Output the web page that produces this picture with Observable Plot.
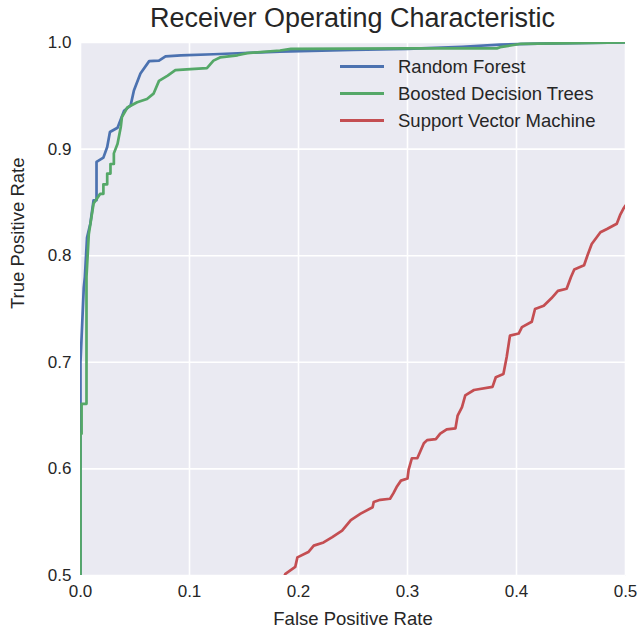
<!DOCTYPE html>
<html>
<head>
<meta charset="utf-8">
<script src="https://cdn.jsdelivr.net/npm/d3@7"></script>
<script src="https://cdn.jsdelivr.net/npm/@observablehq/plot@0.6"></script>
<style>
  html, body { margin: 0; padding: 0; background: #ffffff; }
  body { width: 639px; height: 631px; position: relative; font-family: "Liberation Sans", Arial, sans-serif; overflow: hidden; }
  #title { position: absolute; left: 80px; width: 545px; top: 2px; text-align: center; font-size: 27px; color: #262626; line-height: 32px; z-index: 2; }
  #chart { position: absolute; left: 0; top: 20px; z-index: 1; }
  #legend { position: absolute; left: 340px; top: 53px; font-size: 18.5px; color: #262626; z-index: 3; }
  .row { display: flex; align-items: center; height: 27px; }
  .swatch { width: 44px; height: 3px; margin-right: 14px; }
</style>
</head>
<body>
<div id="title">Receiver Operating Characteristic</div>
<div id="chart"></div>
<div id="legend"></div>
<script>
// ---- data ----
const seriesNames = ["Random Forest", "Boosted Decision Trees", "Support Vector Machine"];
const seriesColors = ["#4C72B0", "#55A868", "#C44E52"];

const rfFpr = [0, 0, 0.003, 0.004, 0.006, 0.009, 0.012, 0.0147, 0.0147, 0.021, 0.0245, 0.027, 0.034, 0.040, 0.046, 0.049, 0.055, 0.063, 0.072, 0.078, 0.092, 0.122, 0.183, 0.25, 0.30, 0.35, 0.385, 0.42, 0.5];
const rfTpr = [0.5, 0.70, 0.77, 0.78, 0.817, 0.83, 0.852, 0.852, 0.888, 0.892, 0.902, 0.916, 0.92, 0.936, 0.941, 0.955, 0.971, 0.9825, 0.983, 0.987, 0.988, 0.989, 0.9915, 0.993, 0.994, 0.996, 0.998, 0.999, 1.0];

const bdtFpr = [0, 0, 0.001, 0.001, 0.0055, 0.0055, 0.0076, 0.012, 0.018, 0.021, 0.021, 0.0245, 0.0245, 0.0275, 0.0275, 0.0306, 0.0306, 0.034, 0.037, 0.038, 0.043, 0.052, 0.061, 0.067, 0.072, 0.080, 0.087, 0.101, 0.116, 0.122, 0.128, 0.144, 0.153, 0.183, 0.193, 0.30, 0.382, 0.385, 0.404, 0.5];
const bdtTpr = [0.5, 0.633, 0.633, 0.661, 0.661, 0.78, 0.82, 0.849, 0.858, 0.858, 0.867, 0.867, 0.877, 0.877, 0.886, 0.886, 0.896, 0.905, 0.921, 0.930, 0.939, 0.944, 0.947, 0.952, 0.964, 0.969, 0.974, 0.975, 0.976, 0.983, 0.986, 0.988, 0.990, 0.9925, 0.994, 0.9945, 0.9945, 0.9956, 0.9988, 1.0];

const svmFpr = [0.186, 0.188, 0.197, 0.199, 0.209, 0.214, 0.223, 0.231, 0.240, 0.248, 0.257, 0.268, 0.269, 0.275, 0.284, 0.287, 0.290, 0.294, 0.300, 0.301, 0.304, 0.309, 0.312, 0.315, 0.318, 0.326, 0.330, 0.336, 0.344, 0.346, 0.350, 0.353, 0.361, 0.378, 0.381, 0.388, 0.391, 0.394, 0.402, 0.405, 0.414, 0.417, 0.425, 0.432, 0.438, 0.446, 0.450, 0.453, 0.462, 0.465, 0.469, 0.477, 0.483, 0.492, 0.495, 0.498, 0.5];
const svmTpr = [0.497, 0.5016, 0.508, 0.517, 0.522, 0.528, 0.531, 0.536, 0.542, 0.552, 0.558, 0.564, 0.569, 0.571, 0.572, 0.577, 0.583, 0.589, 0.591, 0.599, 0.610, 0.610, 0.617, 0.624, 0.627, 0.628, 0.633, 0.637, 0.638, 0.650, 0.658, 0.669, 0.674, 0.677, 0.686, 0.689, 0.705, 0.725, 0.727, 0.733, 0.738, 0.750, 0.753, 0.760, 0.767, 0.769, 0.780, 0.787, 0.791, 0.800, 0.811, 0.822, 0.825, 0.830, 0.838, 0.844, 0.847];

const xTicks = [0, 0.1, 0.2, 0.3, 0.4, 0.5];
const yTicks = [0.5, 0.6, 0.7, 0.8, 0.9, 1.0];

// ---- build tables ----
const toRows = (fpr, tpr, name) => fpr.map((f, i) => ({fpr: f, tpr: tpr[i], model: name}));
const rows = [
  ...toRows(rfFpr, rfTpr, seriesNames[0]),
  ...toRows(bdtFpr, bdtTpr, seriesNames[1]),
  ...toRows(svmFpr, svmTpr, seriesNames[2])
];

const plot = Plot.plot({
  width: 639,
  height: 611,
  marginTop: 22,
  marginLeft: 80,
  marginRight: 14,
  marginBottom: 56,
  style: {fontFamily: "'Liberation Sans', Arial, sans-serif", fontSize: "17px", color: "#262626", background: "transparent", overflow: "visible"},
  x: {domain: [0, 0.5], label: null},
  y: {domain: [0.5, 1.0], label: null},
  color: {domain: seriesNames, range: seriesColors},
  marks: [
    Plot.frame({fill: "#EAEAF2", stroke: null}),
    Plot.gridX(xTicks, {stroke: "#ffffff", strokeOpacity: 1, strokeWidth: 1.6}),
    Plot.gridY(yTicks, {stroke: "#ffffff", strokeOpacity: 1, strokeWidth: 1.6}),
    Plot.line(rows, {x: "fpr", y: "tpr", z: "model", stroke: "model", strokeWidth: 2.7, clip: true}),
    Plot.axisX(xTicks, {tickSize: 0, tickPadding: 9, tickFormat: d3.format(".1f"), fontSize: 17, label: null}),
    Plot.axisY(yTicks, {tickSize: 0, tickPadding: 9, tickFormat: d3.format(".1f"), fontSize: 17, label: null}),
    Plot.text(["False Positive Rate"], {frameAnchor: "bottom", dy: 49, fontSize: 18.5, fill: "#262626"}),
    Plot.text(["True Positive Rate"], {frameAnchor: "left", dx: -62, rotate: -90, fontSize: 18.5, fill: "#262626"})
  ]
});
document.getElementById("chart").appendChild(plot);

// legend
const legend = document.getElementById("legend");
seriesNames.forEach((name, i) => {
  const row = document.createElement("div");
  row.className = "row";
  const sw = document.createElement("div");
  sw.className = "swatch";
  sw.style.background = seriesColors[i];
  const lab = document.createElement("span");
  lab.textContent = name;
  row.appendChild(sw);
  row.appendChild(lab);
  legend.appendChild(row);
});
</script>
</body>
</html>
